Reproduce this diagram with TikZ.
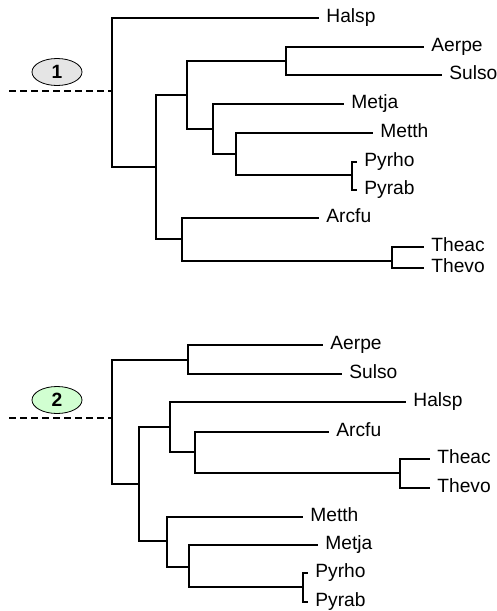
\documentclass[tikz,border=0pt]{standalone}
\usepackage{fontspec}
\setmainfont{Liberation Sans}
\usetikzlibrary{shapes.geometric}

\begin{document}
\begin{tikzpicture}[x=0.5pt,y=-0.5pt,
leaf/.style={
anchor=west,
inner sep=3.5pt,
text height=6.8pt,
text depth=2.4pt,
font=\fontsize{9.6}{11}\selectfont
},
tag/.style={
ellipse,
draw,
thin,
minimum width=25pt,
minimum height=13.5pt,
inner sep=0pt,
font=\fontsize{9.6}{11}\selectfont\bfseries
},
edge/.style={line width=1pt},
stub/.style={line width=1pt,dash pattern=on 3.5pt off 2pt},
]
\useasboundingbox (0,0) rectangle (497,611);

% tree 1
\node (t1) [tag,fill=black!10] at (57,72) {1};
\coordinate (s1) at (9,91);
\coordinate (r1) at (112,91);
\coordinate (a1) at (156,167);
\coordinate (b1) at (187,95);
\coordinate (c1) at (286,61);
\coordinate (d1) at (213,129);
\coordinate (e1) at (236,154);
\coordinate (f1) at (352,175);
\coordinate (g1) at (182,239);
\coordinate (h1) at (392,261);
\node (halsp1) [leaf] at (319,18) {Halsp};
\node (aerpe1) [leaf] at (424,47) {Aerpe};
\node (sulso1) [leaf] at (442,75) {Sulso};
\node (metja1) [leaf] at (344,104) {Metja};
\node (metth1) [leaf] at (373,133) {Metth};
\node (pyrho1) [leaf] at (357,162) {Pyrho};
\node (pyrab1) [leaf] at (357,190) {Pyrab};
\node (arcfu1) [leaf] at (319,218) {Arcfu};
\node (theac1) [leaf] at (424,247) {Theac};
\node (thevo1) [leaf] at (424,268) {Thevo};
\draw[stub] (s1) -- (r1);
\draw[edge] (r1) |- (halsp1);
\draw[edge] (r1) |- (a1);
\draw[edge] (a1) |- (b1);
\draw[edge] (a1) |- (g1);
\draw[edge] (b1) |- (c1);
\draw[edge] (b1) |- (d1);
\draw[edge] (c1) |- (aerpe1);
\draw[edge] (c1) |- (sulso1);
\draw[edge] (d1) |- (metja1);
\draw[edge] (d1) |- (e1);
\draw[edge] (e1) |- (metth1);
\draw[edge] (e1) |- (f1);
\draw[edge] (f1) |- (pyrho1);
\draw[edge] (f1) |- (pyrab1);
\draw[edge] (g1) |- (arcfu1);
\draw[edge] (g1) |- (h1);
\draw[edge] (h1) |- (theac1);
\draw[edge] (h1) |- (thevo1);

% tree 2
\node (t2) [tag,fill=green!18] at (57,400) {2};
\coordinate (s2) at (9,418);
\coordinate (r2) at (112,418);
\coordinate (a2) at (188,360);
\coordinate (b2) at (139,484);
\coordinate (c2) at (170,427);
\coordinate (d2) at (195,452);
\coordinate (e2) at (400,473);
\coordinate (f2) at (167,541);
\coordinate (g2) at (189,567);
\coordinate (h2) at (303,587);
\node (aerpe2) [leaf] at (323,345) {Aerpe};
\node (sulso2) [leaf] at (342,374) {Sulso};
\node (halsp2) [leaf] at (406,402) {Halsp};
\node (arcfu2) [leaf] at (329,432) {Arcfu};
\node (theac2) [leaf] at (430,459) {Theac};
\node (thevo2) [leaf] at (430,488) {Thevo};
\node (metth2) [leaf] at (303,517) {Metth};
\node (metja2) [leaf] at (318,545) {Metja};
\node (pyrho2) [leaf] at (308,573) {Pyrho};
\node (pyrab2) [leaf] at (308,602) {Pyrab};
\draw[stub] (s2) -- (r2);
\draw[edge] (r2) |- (a2);
\draw[edge] (r2) |- (b2);
\draw[edge] (a2) |- (aerpe2);
\draw[edge] (a2) |- (sulso2);
\draw[edge] (b2) |- (c2);
\draw[edge] (b2) |- (f2);
\draw[edge] (c2) |- (halsp2);
\draw[edge] (c2) |- (d2);
\draw[edge] (d2) |- (arcfu2);
\draw[edge] (d2) |- (e2);
\draw[edge] (e2) |- (theac2);
\draw[edge] (e2) |- (thevo2);
\draw[edge] (f2) |- (metth2);
\draw[edge] (f2) |- (g2);
\draw[edge] (g2) |- (metja2);
\draw[edge] (g2) |- (h2);
\draw[edge] (h2) |- (pyrho2);
\draw[edge] (h2) |- (pyrab2);
\end{tikzpicture}
\end{document}
